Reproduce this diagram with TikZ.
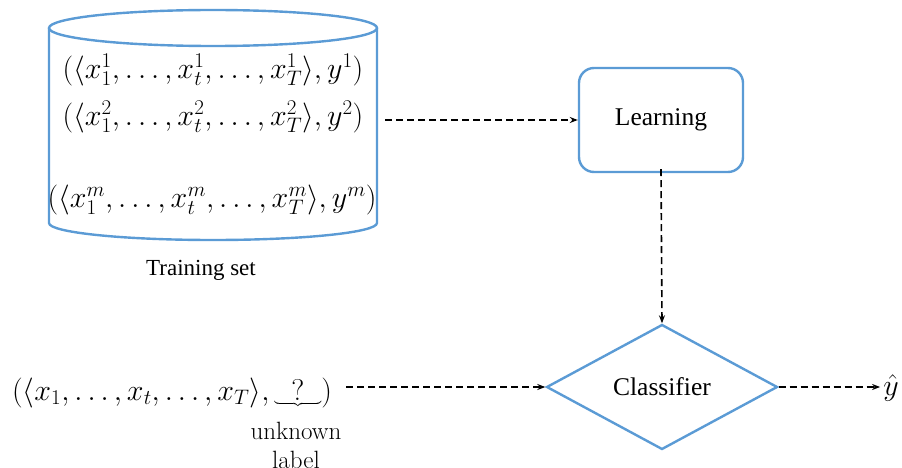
\RequirePackage{fix-cm}
\documentclass[tikz,border=0pt]{standalone}
\usepackage{fontspec}
\newfontfamily\lblfont{Liberation Serif}
\usetikzlibrary{shapes.geometric,arrows.meta}
\definecolor{boxblue}{RGB}{91,155,213}

\begin{document}
\begin{tikzpicture}[x=1pt,y=-1pt,
  outline/.style={draw=boxblue,line width=2.4pt},
  flow/.style={draw=black,line width=1.6pt,dash pattern=on 7pt off 4pt,
    -{Stealth[length=8pt,width=6pt]}},
  bigmath/.style={font=\fontsize{30}{34}\selectfont,inner sep=0pt},
  caption/.style={font=\lblfont\fontsize{25.5}{30}\selectfont},
  smallcap/.style={font=\lblfont\fontsize{23}{27}\selectfont},
  note/.style={font=\fontsize{25}{29}\selectfont,align=center,inner sep=0pt}
]
\useasboundingbox (0,0) rectangle (902,468);

% training-set drum
\draw[outline] (213,28) ellipse [x radius=164, y radius=18];
\draw[outline] (49,28) -- (49,223)
  arc[start angle=180,end angle=0,x radius=164,y radius=17] -- (377,28);
\node[minimum width=328pt,minimum height=230pt,inner sep=0pt] (train) at (213,125) {};

\node[bigmath] (row1) at (213,70)
  {$(\langle x_1^1,\ldots,x_t^1,\ldots,x_T^1\rangle,y^1)$};
\node[bigmath] (row2) at (213,117)
  {$(\langle x_1^2,\ldots,x_t^2,\ldots,x_T^2\rangle,y^2)$};
\node[bigmath] (rowm) at (212,200)
  {$(\langle x_1^m,\ldots,x_t^m,\ldots,x_T^m\rangle,y^m)$};
\node[smallcap] (tslabel) at (201,270) {Training set};

% learner and classifier
\node[outline,rounded corners=15pt,minimum width=164pt,minimum height=104pt,caption]
  (learn) at (661,120) {Learning};
\node[outline,diamond,minimum width=231pt,minimum height=125pt,inner sep=0pt,caption]
  (cls) at (662,387) {Classifier};

% new example
\node[bigmath,anchor=base west] (inp) at (12,400)
  {$(\langle x_1,\ldots,x_t,\ldots,x_T\rangle,\underbrace{\hspace{17pt}?\hspace{17pt}})$};
\node[note] (unk) at (296,445) {unknown\\label};
\node[bigmath] (yhat) at (891,388) {$\hat{y}$};

% flow arrows
\draw[flow] ([xshift=8pt]train.east |- learn.west) -- (learn.west);
\draw[flow] ([yshift=4pt]learn.south) -- (cls.north);
\draw[flow] ([xshift=14pt]inp.east |- cls.west) -- (cls.west);
\draw[flow] (cls.east) -- ([xshift=-3pt]yhat.west |- cls.east);
\end{tikzpicture}
\end{document}
